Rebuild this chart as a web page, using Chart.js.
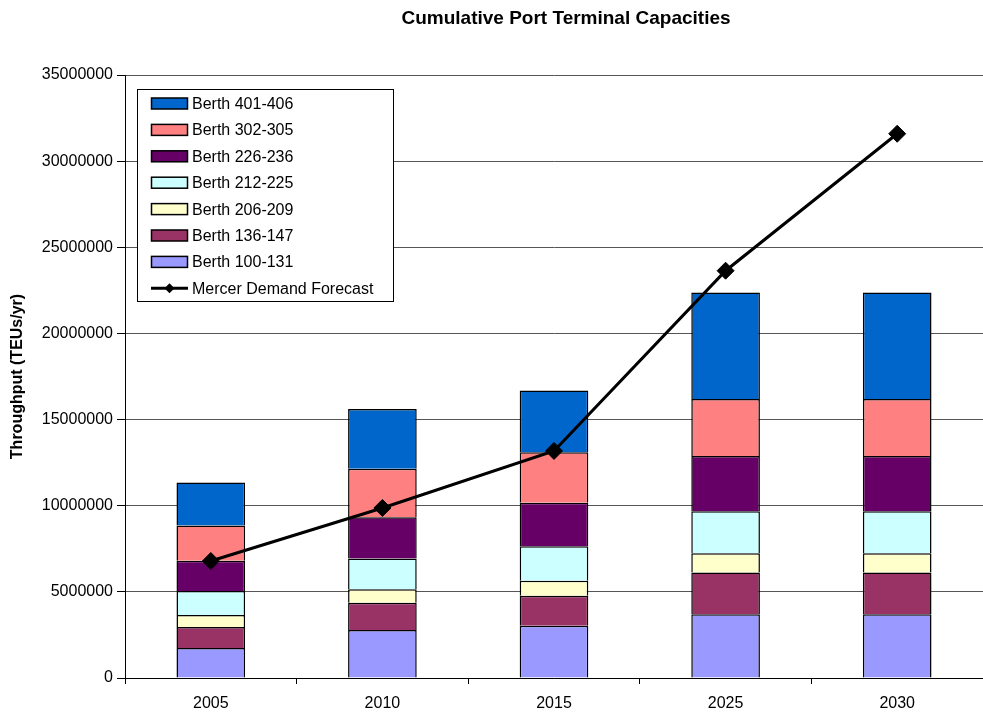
<!DOCTYPE html>
<html>
<head>
<meta charset="utf-8">
<script src="https://cdn.jsdelivr.net/npm/chart.js@4.4.1/dist/chart.umd.min.js"></script>
<style>
	html, body { margin: 0; padding: 0; background: #fff; }
	#wrap { width: 983px; height: 712px; }
</style>
</head>
<body>
<div id="wrap"><canvas id="portChart" width="983" height="712"></canvas></div>
<script>
// categories and series (TEUs/yr)
const years = ["2005", "2010", "2015", "2025", "2030"];
const berth100 = [1740000, 2790000, 3040000, 3700000, 3700000];
const berth136 = [1220000, 1580000, 1740000, 2420000, 2420000];
const berth206 = [700000, 780000, 870000, 1120000, 1120000];
const berth212 = [1390000, 1780000, 1990000, 2440000, 2440000];
const berth226 = [1750000, 2400000, 2530000, 3210000, 3210000];
const berth302 = [2050000, 2810000, 2930000, 3310000, 3310000];
const berth401 = [2500000, 3480000, 3590000, 6180000, 6180000];
const demand = [6790000, 9870000, 13180000, 23640000, 31590000];

const chartTitle = "Cumulative Port Terminal Capacities";
const yTitle = "Throughput (TEUs/yr)";
const FONT = "'Liberation Sans', Arial, sans-serif";

function barSet(label, data, color) {
	return {
		type: "bar",
		label: label,
		data: data,
		backgroundColor: color,
		borderColor: "#000",
		borderWidth: 1.5,
		stack: "cap",
		order: 1,
	};
}

// title drawn by hand so it can sit off-centre like the original
const titlePlugin = {
	id: "customTitle",
	afterDraw(chart) {
		const ctx = chart.ctx;
		ctx.save();
		ctx.font = "bold 19px " + FONT;
		ctx.fillStyle = "#000";
		ctx.textAlign = "center";
		ctx.textBaseline = "middle";
		ctx.fillText(chartTitle, 566, 19);
		ctx.restore();
	},
};

// boxed legend inside the plot, listed top of stack first
const boxLegend = {
	id: "boxLegend",
	afterDatasetsDraw(chart) {
		const ctx = chart.ctx;
		const sets = chart.data.datasets;
		const bars = sets.filter((d) => d.type === "bar").reverse();
		const line = sets.find((d) => d.type === "line");
		const items = bars.concat([line]);
		const bx = 137.5, by = 89.5, bw = 256, bh = 212;
		ctx.save();
		ctx.fillStyle = "#fff";
		ctx.fillRect(bx, by, bw, bh);
		ctx.strokeStyle = "#000";
		ctx.lineWidth = 1;
		ctx.strokeRect(bx, by, bw, bh);
		ctx.font = "16px " + FONT;
		ctx.textBaseline = "middle";
		items.forEach((d, i) => {
			const cy = 103.5 + i * 26.4;
			if (d.type === "bar") {
				ctx.fillStyle = d.backgroundColor;
				ctx.fillRect(151.5, cy - 5.5, 36, 11);
				ctx.lineWidth = 1.5;
				ctx.strokeStyle = "#000";
				ctx.strokeRect(151.5, cy - 5.5, 36, 11);
			} else {
				ctx.strokeStyle = "#000";
				ctx.lineWidth = 3;
				ctx.beginPath();
				ctx.moveTo(151, cy);
				ctx.lineTo(188, cy);
				ctx.stroke();
				ctx.fillStyle = "#000";
				ctx.beginPath();
				ctx.moveTo(169.5 - 5, cy);
				ctx.lineTo(169.5, cy - 5);
				ctx.lineTo(169.5 + 5, cy);
				ctx.lineTo(169.5, cy + 5);
				ctx.closePath();
				ctx.fill();
			}
			ctx.fillStyle = "#000";
			ctx.fillText(d.label, 192, cy + 1);
		});
		ctx.restore();
	},
};

document.addEventListener("DOMContentLoaded", function () {
	const ctx = document.getElementById("portChart").getContext("2d");
	new Chart(ctx, {
		data: {
			labels: years,
			datasets: [
				barSet("Berth 100-131", berth100, "#9999FF"),
				barSet("Berth 136-147", berth136, "#993366"),
				barSet("Berth 206-209", berth206, "#FFFFCC"),
				barSet("Berth 212-225", berth212, "#CCFFFF"),
				barSet("Berth 226-236", berth226, "#660066"),
				barSet("Berth 302-305", berth302, "#FF8080"),
				barSet("Berth 401-406", berth401, "#0066CC"),
				{
					type: "line",
					label: "Mercer Demand Forecast",
					data: demand,
					borderColor: "#000",
					backgroundColor: "#000",
					borderWidth: 3,
					pointStyle: "rectRot",
					pointRadius: 8.5,
					pointBorderWidth: 1,
					pointBackgroundColor: "#000",
					pointBorderColor: "#000",
					stack: "demand",
					order: 0,
					tension: 0,
				},
			],
		},
		options: {
			responsive: false,
			animation: false,
			datasets: { bar: { barPercentage: 0.4, categoryPercentage: 1.0 } },
			layout: { autoPadding: false, padding: { top: 75, right: -8, bottom: 0, left: 0 } },
			plugins: {
				legend: { display: false },
				title: { display: false },
				tooltip: { enabled: false },
			},
			scales: {
				x: {
					stacked: true,
					offset: true,
					grid: {
						display: true,
						drawOnChartArea: false,
						offset: true,
						tickLength: 6,
						tickColor: "#000",
					},
					border: { color: "#000", width: 1 },
					ticks: { color: "#000", font: { family: FONT, size: 16 }, padding: 10 },
					afterFit(scale) {
						scale.height = 34;
						scale.paddingLeft = 0;
						scale.paddingRight = -8;
					},
				},
				y: {
					stacked: true,
					min: 0,
					max: 35000000,
					grid: { color: "#555", lineWidth: 1, tickLength: 8, tickColor: "#000" },
					border: { color: "#000", width: 1 },
					ticks: {
						stepSize: 5000000,
						color: "#000",
						padding: 4,
						font: { family: FONT, size: 16 },
						callback: (v) => String(v),
					},
					title: {
						display: true,
						text: yTitle,
						color: "#000",
						font: { family: FONT, size: 16, weight: "bold" },
						padding: { top: 8, bottom: 4 },
					},
					afterFit(scale) { scale.width = 125; },
				},
			},
		},
		plugins: [titlePlugin, boxLegend],
	});
});
</script>
</body>
</html>
